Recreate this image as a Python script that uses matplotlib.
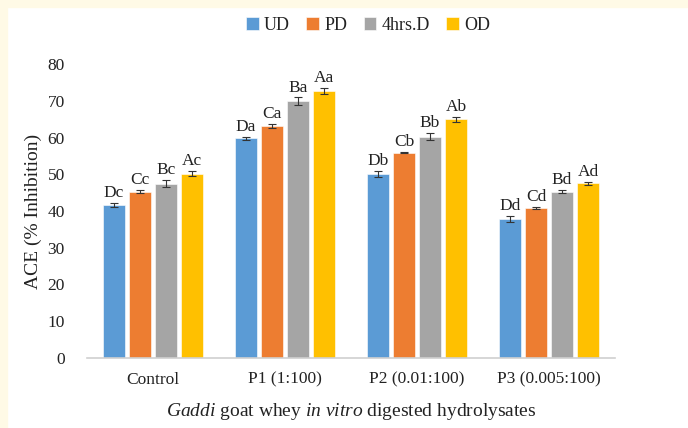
import matplotlib
matplotlib.use("Agg")
import matplotlib.pyplot as plt
import numpy as np
from matplotlib.patches import Rectangle

categories = ["Control", "P1 (1:100)", "P2 (0.01:100)", "P3 (0.005:100)"]
series = ["UD", "PD", "4hrs.D", "OD"]
ud = [41.7, 59.8, 50.1, 37.9]
pd_ = [45.3, 63.2, 55.9, 40.8]
hrs4 = [47.4, 69.9, 60.2, 45.3]
od = [50.2, 72.6, 64.9, 47.5]
ud_err = [0.6, 0.4, 0.9, 0.8]
pd_err = [0.5, 0.6, 0.2, 0.3]
hrs4_err = [1.0, 1.0, 1.0, 0.4]
od_err = [0.8, 0.8, 0.8, 0.3]
ud_lab = ["Dc", "Da", "Db", "Dd"]
pd_lab = ["Cc", "Ca", "Cb", "Cd"]
hrs4_lab = ["Bc", "Ba", "Bb", "Bd"]
od_lab = ["Ac", "Aa", "Ab", "Ad"]
yticks = [0, 10, 20, 30, 40, 50, 60, 70, 80]

colors = ["#5B9BD5", "#ED7D31", "#A5A5A5", "#FFC000"]
values = [ud, pd_, hrs4, od]
errs = [ud_err, pd_err, hrs4_err, od_err]
labs = [ud_lab, pd_lab, hrs4_lab, od_lab]

plt.rcParams['font.family'] = ['Liberation Serif', 'DejaVu Serif']
plt.rcParams['mathtext.fontset'] = 'custom'
plt.rcParams['mathtext.rm'] = 'Liberation Serif'
plt.rcParams['mathtext.it'] = 'Liberation Serif:italic'

fig = plt.figure(figsize=(6.88, 4.28), dpi=100)
fig.patch.set_facecolor("white")
fig.patches.append(Rectangle((0, 0), 7/688, 1, transform=fig.transFigure, color="#FFFAE6", zorder=0))
fig.patches.append(Rectangle((0, 1-7/428), 1, 7/428, transform=fig.transFigure, color="#FFFAE6", zorder=0))

ax = fig.add_axes([87/688, 1-358/428, (615-87)/688, (358-64)/428])
x = np.arange(len(categories))
pitch = 0.197
width = 0.167
for i, (vals, e, c, name, lb) in enumerate(zip(values, errs, colors, series, labs)):
    pos = x + (i - 1.5) * pitch
    ax.bar(pos, vals, width, color=c, edgecolor="white", linewidth=0.4, label=name, zorder=2)
    ax.errorbar(pos, vals, yerr=e, fmt="none", ecolor="#333333", elinewidth=0.8, capsize=3, capthick=0.8, zorder=3)
    for p, v, ee, t in zip(pos, vals, e, lb):
        ax.text(p, v + ee + 0.5, t, ha="center", va="bottom", fontsize=12.5, color="#222222")

ax.set_xlim(-0.5, 3.5)
ax.set_ylim(0, 80)
ax.set_yticks(yticks)
ax.set_xticks(x)
ax.set_xticklabels(categories, fontsize=12.5)
ax.tick_params(axis="y", length=0, labelsize=12.5, pad=16, labelcolor="#222222")
ax.tick_params(axis="x", length=0, labelsize=12.5, pad=10, labelcolor="#222222")
for s in ["top", "right", "left"]:
    ax.spines[s].set_visible(False)
ax.spines["bottom"].set_color("#D0D0D0")
ax.spines["bottom"].set_linewidth(1.2)
ax.set_facecolor("none")

ax.set_ylabel("ACE (% Inhibition)", fontsize=14, labelpad=4, color="#222222")
fig.text(0.51, 1-412/428, r"$\it{Gaddi}$ goat whey $\it{in\ vitro}$ digested hydrolysates",
         ha="center", va="center", fontsize=14, color="#222222")

handles, labels_ = ax.get_legend_handles_labels()
leg = fig.legend(handles, labels_, loc="center", bbox_to_anchor=(0.535, 1-25/428), ncol=4, frameon=False,
                 fontsize=13, handlelength=0.7, handleheight=0.7, handletextpad=0.3, columnspacing=0.9)
for t in leg.get_texts():
    t.set_color("#222222")

fig.savefig("out.png", dpi=100)
